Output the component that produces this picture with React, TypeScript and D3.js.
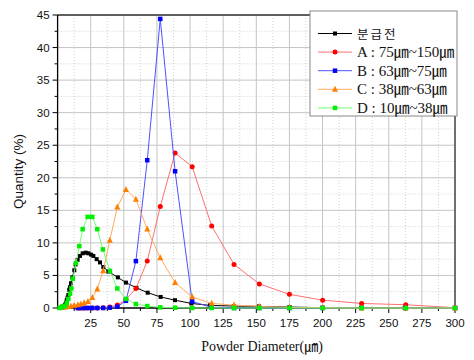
import React from "react";
import * as d3 from "d3";

const xTicks = [25, 50, 75, 100, 125, 150, 175, 200, 225, 250, 275, 300];
const yTicks = [0, 5, 10, 15, 20, 25, 30, 35, 40, 45];

const rawX = [1.5, 2.5, 3.6, 4.6, 5.6, 6.3, 6.9, 7.5, 8.1, 8.8, 9.4, 10.1, 11.1, 12.6, 13.6, 15.1, 16.9, 18.9, 21.2, 23.2, 25.2, 27, 29.5, 32, 34.5, 38.3, 45.5, 51.6, 59.5, 68, 77.8, 88.6, 101, 115, 133, 152, 175, 200, 229, 262, 300];
const rawY = [0, 0.02, 0.1, 0.3, 0.5, 0.8, 1.2, 1.6, 2.0, 2.8, 3.2, 3.8, 4.7, 5.8, 6.7, 7.4, 8.0, 8.4, 8.5, 8.4, 8.2, 8.0, 7.5, 7.0, 6.3, 5.6, 4.7, 3.9, 3.1, 2.35, 1.7, 1.2, 0.7, 0.4, 0.3, 0.25, 0.15, 0.05, 0.02, 0, 0];

const aX = [15.3, 17.5, 20, 22.9, 26.2, 30, 34.4, 39.4, 45.1, 51.6, 59.1, 67.7, 77.5, 88.7, 101.6, 116.3, 133.2, 152.3, 175, 200.1, 229.5, 262.8, 300];
const aY = [0, 0, 0, 0, 0, 0, 0.05, 0.15, 0.45, 1.3, 3.0, 7.2, 15.6, 23.8, 21.7, 12.6, 6.7, 3.7, 2.1, 1.2, 0.7, 0.5, 0.05];

const bX = [15.3, 17.5, 20, 22.9, 26.2, 30, 34.4, 39.4, 45.1, 51.6, 59.1, 67.7, 77.5, 88.7, 101.6, 116.3, 133.2, 152.3, 175, 200.1, 229.5, 262.8, 300];
const bY = [0, 0, 0, 0, 0, 0, 0, 0.05, 0.2, 1.1, 7.2, 22.7, 44.4, 21.0, 1.0, 0.1, 0, 0, 0, 0, 0, 0, 0];

const cX = [2, 4, 6, 8, 10, 12.5, 15.3, 17.5, 20, 22.9, 26.2, 30, 34.4, 39.4, 45.1, 51.6, 59.1, 67.7, 77.5, 88.7, 101.6, 116.3, 133.2, 152.3, 175, 200.1, 229.5, 262.8, 300];
const cY = [0.05, 0.1, 0.15, 0.2, 0.3, 0.4, 0.5, 0.6, 0.8, 1.0, 1.6, 2.9, 5.7, 10.4, 15.5, 18.2, 16.7, 12.1, 7.7, 3.9, 1.7, 0.7, 0.45, 0.25, 0.1, 0.05, 0, 0, 0];

const dX = [1.5, 2.5, 3.6, 4.6, 5.6, 6.9, 8.1, 9.4, 10.4, 11.5, 13.9, 16.4, 18.9, 22.7, 26.2, 30, 34.2, 39.5, 45.1, 51.6, 59.1, 67.7, 77.5, 88.7, 101.6, 116.3, 133.2, 152.3, 175, 200.1, 229.5, 262.8, 300];
const dY = [0, 0.05, 0.2, 0.3, 0.3, 0.8, 1.4, 2.2, 3.0, 4.5, 6.9, 9.5, 12.1, 14.0, 14.0, 12.1, 9.0, 5.7, 3.0, 1.4, 0.6, 0.3, 0.1, 0.05, 0, 0, 0, 0, 0, 0, 0, 0, 0];

const seriesNames = ["분급전", "A : 75㎛~150㎛", "B : 63㎛~75㎛", "C : 38㎛~63㎛", "D : 10㎛~38㎛"];

type Shape = "square" | "circle" | "triangle";
const series = [
  { name: seriesNames[0], xs: rawX, ys: rawY, line: "#000000", fill: "#000000", shape: "square" as Shape, size: 4 },
  { name: seriesNames[1], xs: aX, ys: aY, line: "#ff7070", fill: "#ff0000", shape: "circle" as Shape, size: 5 },
  { name: seriesNames[2], xs: bX, ys: bY, line: "#5050ff", fill: "#0000ff", shape: "square" as Shape, size: 4.5 },
  { name: seriesNames[3], xs: cX, ys: cY, line: "#ffaa60", fill: "#ff8000", shape: "triangle" as Shape, size: 6 },
  { name: seriesNames[4], xs: dX, ys: dY, line: "#70ff70", fill: "#00ee00", shape: "square" as Shape, size: 4.5 },
];

function Marker({ x, y, shape, size, fill }: { x: number; y: number; shape: Shape; size: number; fill: string }) {
  if (shape === "circle") return <circle cx={x} cy={y} r={size / 2} fill={fill} />;
  if (shape === "triangle") {
    const h = size;
    return <path d={`M${x},${y - h * 0.6}L${x + h / 2},${y + h * 0.4}L${x - h / 2},${y + h * 0.4}Z`} fill={fill} />;
  }
  return <rect x={x - size / 2} y={y - size / 2} width={size} height={size} fill={fill} />;
}

export default function App() {
  const W = 474, H = 360;
  const L = 57.6, R = 455, T = 15, B = 308;
  const x = d3.scaleLinear().domain([0, 300]).range([L, R]);
  const y = d3.scaleLinear().domain([0, 45]).range([B, T]);
  const minorX = d3.range(12.5, 300, 25);
  const minorY = d3.range(2.5, 45, 5);
  const line = d3.line<[number, number]>().x((d) => x(d[0])).y((d) => y(d[1])).curve(d3.curveLinear);
  const legX = 310, legY = 11, legW = 147, legH = 105;
  const rowY = (i: number) => 33.5 + i * 18.6;

  return (
    <svg width={W} height={H} style={{ position: "absolute", left: 0, top: 0, background: "#fff" }}>
      {minorX.map((v) => (
        <line key={"mx" + v} x1={x(v)} x2={x(v)} y1={T} y2={B} stroke="#d0d0d0" strokeWidth={1} strokeDasharray="1,2" />
      ))}
      {minorY.map((v) => (
        <line key={"my" + v} x1={L} x2={R} y1={y(v)} y2={y(v)} stroke="#d0d0d0" strokeWidth={1} strokeDasharray="1,2" />
      ))}
      {xTicks.map((v) => (
        <line key={"gx" + v} x1={x(v)} x2={x(v)} y1={T} y2={B} stroke="#c4c4c4" strokeWidth={1} />
      ))}
      {yTicks.slice(1).map((v) => (
        <line key={"gy" + v} x1={L} x2={R} y1={y(v)} y2={y(v)} stroke="#c4c4c4" strokeWidth={1} />
      ))}
      <line x1={L} x2={R} y1={T} y2={T} stroke="#333" strokeWidth={1.3} />
      <line x1={R} x2={R} y1={T} y2={B} stroke="#333" strokeWidth={1.3} />
      <line x1={L} x2={L} y1={T} y2={B} stroke="#000" strokeWidth={1.3} />
      <line x1={L} x2={R} y1={B} y2={B} stroke="#000" strokeWidth={1.3} />
      {xTicks.map((v) => (
        <line key={"tx" + v} x1={x(v)} x2={x(v)} y1={B} y2={B + 5} stroke="#000" />
      ))}
      {minorX.map((v) => (
        <line key={"tmx" + v} x1={x(v)} x2={x(v)} y1={B} y2={B + 3} stroke="#000" />
      ))}
      {yTicks.map((v) => (
        <line key={"ty" + v} x1={L - 5} x2={L} y1={y(v)} y2={y(v)} stroke="#000" />
      ))}
      {minorY.map((v) => (
        <line key={"tmy" + v} x1={L - 3} x2={L} y1={y(v)} y2={y(v)} stroke="#000" />
      ))}
      {xTicks.map((v) => (
        <text key={"lx" + v} x={x(v)} y={B + 19} textAnchor="middle" fontFamily="Liberation Sans, Arial" fontSize={11.5} fill="#111">
          {v}
        </text>
      ))}
      {yTicks.map((v) => (
        <text key={"ly" + v} x={L - 8} y={y(v) + 4} textAnchor="end" fontFamily="Liberation Sans, Arial" fontSize={11.5} fill="#111">
          {v}
        </text>
      ))}
      <text x={262} y={351} textAnchor="middle" fontFamily="Liberation Serif, Noto Sans CJK KR" fontSize={14} fill="#111">
        Powder Diameter(㎛)
      </text>
      <text transform={`translate(23,${(T + B) / 2 + 10}) rotate(-90)`} textAnchor="middle" fontFamily="Liberation Sans, Arial" fontSize={13.5} fill="#111">
        Quantity (%)
      </text>
      {series.map((s) => {
        const pts = s.xs.map((v, i) => [v, s.ys[i]] as [number, number]);
        return (
          <g key={s.name}>
            <path d={line(pts) || ""} fill="none" stroke={s.line} strokeWidth={1} />
            {pts.map((p, i) => (
              <Marker key={i} x={x(p[0])} y={y(p[1])} shape={s.shape} size={s.size} fill={s.fill} />
            ))}
          </g>
        );
      })}
      <rect x={legX} y={legY} width={legW} height={legH} fill="#fff" stroke="#888" strokeWidth={1} />
      {series.map((s, i) => (
        <g key={"leg" + i}>
          <line x1={318} x2={352} y1={rowY(i)} y2={rowY(i)} stroke={s.line} strokeWidth={1} />
          <Marker x={335} y={rowY(i)} shape={s.shape} size={s.size} fill={s.fill} />
          <text
            x={357}
            y={rowY(i) + 5}
            fontFamily={i === 0 ? "Noto Sans CJK KR" : "Liberation Serif, Noto Sans CJK KR"}
            fontSize={i === 0 ? 12.5 : 15}
            fill="#111"
            letterSpacing={i === 0 ? 2 : 0}
          >
            {s.name}
          </text>
        </g>
      ))}
    </svg>
  );
}
